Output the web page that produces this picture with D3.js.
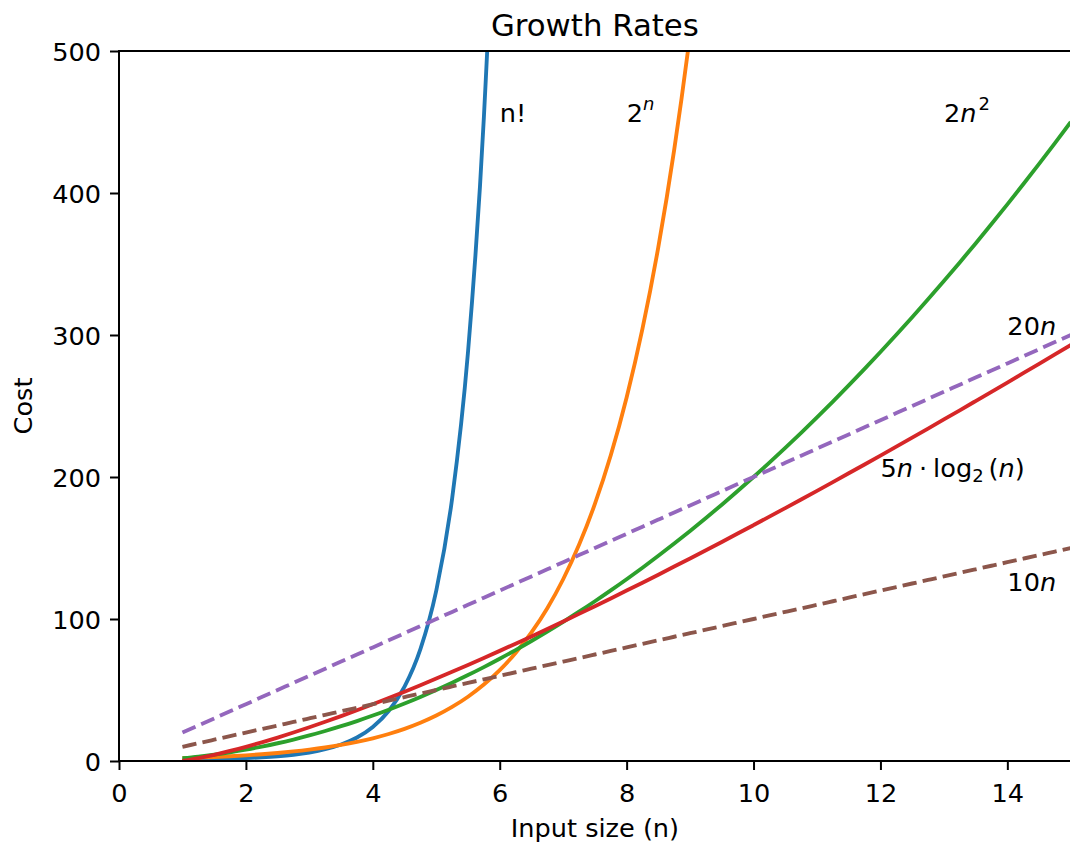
<!DOCTYPE html>
<html><head><meta charset="utf-8">
<script src="https://cdn.jsdelivr.net/npm/d3@7"></script>
<style>
body{margin:0;background:#fff}
text{font-family:"DejaVu Sans",sans-serif;fill:#000}
</style>
</head><body>
<svg id="c" width="1070" height="848"></svg>
<script>
// ---- data ----
const nValues = [1,1.25,1.5,1.75,2,2.25,2.5,2.75,3,3.25,3.5,3.75,4,4.25,4.5,4.75,5,5.25,5.5,5.75,6,6.25,6.5,6.75,7,7.25,7.5,7.75,8,8.25,8.5,8.75,9,9.25,9.5,9.75,10,10.25,10.5,10.75,11,11.25,11.5,11.75,12,12.25,12.5,12.75,13,13.25,13.5,13.75,14,14.25,14.5,14.75,15];
const factorialCost = [1,1.13,1.33,1.61,2,2.55,3.32,4.42,6,8.29,11.63,16.59,24,35.21,52.34,78.79,120,184.86,287.89,453.03,720,1155.4];
const exponentialCost = [2,2.38,2.83,3.36,4,4.76,5.66,6.73,8,9.51,11.31,13.45,16,19.03,22.63,26.91,32,38.05,45.25,53.82,64,76.11,90.51,107.63,128,152.22,181.02,215.27,256,304.44,362.04,430.54,512,608.87];
const quadraticCost = [2,3.13,4.5,6.13,8,10.13,12.5,15.13,18,21.13,24.5,28.13,32,36.13,40.5,45.13,50,55.13,60.5,66.13,72,78.13,84.5,91.13,98,105.13,112.5,120.13,128,136.13,144.5,153.13,162,171.13,180.5,190.13,200,210.13,220.5,231.13,242,253.13,264.5,276.13,288,300.13,312.5,325.13,338,351.13,364.5,378.13,392,406.13,420.5,435.13,450];
const nLogNCost = [0,2.01,4.39,7.06,10,13.16,16.52,20.07,23.77,27.63,31.63,35.75,40,44.36,48.82,53.39,58.05,62.80,67.63,72.55,77.55,82.62,87.76,92.98,98.26,103.60,109.01,114.48,120,125.58,131.22,136.91,142.65,148.44,154.28,160.16,166.10,172.07,178.10,184.16,190.27,196.42,202.60,208.83,215.10,221.40,227.74,234.12,240.53,246.97,253.46,259.97,266.51,273.09,279.70,286.34,293.02];
const twentyNCost = [20,25,30,35,40,45,50,55,60,65,70,75,80,85,90,95,100,105,110,115,120,125,130,135,140,145,150,155,160,165,170,175,180,185,190,195,200,205,210,215,220,225,230,235,240,245,250,255,260,265,270,275,280,285,290,295,300];
const tenNCost = [10,12.5,15,17.5,20,22.5,25,27.5,30,32.5,35,37.5,40,42.5,45,47.5,50,52.5,55,57.5,60,62.5,65,67.5,70,72.5,75,77.5,80,82.5,85,87.5,90,92.5,95,97.5,100,102.5,105,107.5,110,112.5,115,117.5,120,122.5,125,127.5,130,132.5,135,137.5,140,142.5,145,147.5,150];
const xTicks = [0,2,4,6,8,10,12,14];
const yTicks = [0,100,200,300,400,500];
const labelX = [6,8,13,14,12,14];
const labelY = [450,450,450,300,200,120];

// ---- layout ----
const svg = d3.select('#c');
const m = {l:119, r:1070.8, t:51, b:761};
const x = d3.scaleLinear().domain([0,15]).range([m.l,m.r]);
const y = d3.scaleLinear().domain([0,500]).range([m.b,m.t]);
const LW = 3.85, SW = 2, TL = 9, FS = 25.6;

svg.append('defs').append('clipPath').attr('id','clip').append('rect')
  .attr('x',m.l).attr('y',m.t).attr('width',m.r-m.l).attr('height',m.b-m.t);

const series = [
  {vals: factorialCost, color:'#1f77b4', dash:null},
  {vals: exponentialCost, color:'#ff7f0e', dash:null},
  {vals: quadraticCost, color:'#2ca02c', dash:null},
  {vals: nLogNCost, color:'#d62728', dash:null},
  {vals: twentyNCost, color:'#9467bd', dash:'14.3,6.2'},
  {vals: tenNCost, color:'#8c564b', dash:'14.3,6.2'}
];
const line = d3.line().x(d=>x(d[0])).y(d=>y(d[1])).curve(d3.curveMonotoneX);
const g = svg.append('g').attr('clip-path','url(#clip)');
series.forEach(s=>{
  const pts = s.vals.map((v,i)=>[nValues[i],v]);
  g.append('path').attr('d',line(pts)).attr('fill','none')
   .attr('stroke',s.color).attr('stroke-width',LW)
   .attr('stroke-linejoin','round')
   .attr('stroke-dasharray',s.dash);
});

// axes
const xa = svg.append('g').attr('transform',`translate(0,${m.b})`)
  .call(d3.axisBottom(x).tickValues(xTicks).tickSize(TL).tickFormat(d3.format('d')));
xa.select('.domain').remove();
xa.selectAll('line').attr('stroke','#000').attr('stroke-width',SW);
xa.selectAll('text').attr('y',40.5).attr('dy',null).attr('font-size',FS).attr('font-family','DejaVu Sans').attr('fill','#000');

const ya = svg.append('g').attr('transform',`translate(${m.l},0)`)
  .call(d3.axisLeft(y).tickValues(yTicks).tickSize(TL).tickFormat(d3.format('d')));
ya.select('.domain').remove();
ya.selectAll('line').attr('stroke','#000').attr('stroke-width',SW);
ya.selectAll('text').attr('x',-18).attr('dy',null).attr('y',9.3).attr('font-size',FS).attr('font-family','DejaVu Sans').attr('fill','#000');

// spines
const sp = svg.append('g').attr('stroke','#000').attr('stroke-width',SW).attr('stroke-linecap','square');
sp.append('line').attr('x1',m.l).attr('x2',m.l).attr('y1',m.t).attr('y2',m.b);
sp.append('line').attr('x1',m.l).attr('x2',m.r).attr('y1',m.b).attr('y2',m.b);
sp.append('line').attr('x1',m.l).attr('x2',m.r).attr('y1',m.t).attr('y2',m.t);

// titles
svg.append('text').attr('x',(m.l+m.r)/2).attr('y',36).attr('text-anchor','middle')
  .attr('font-size',30.8).text('Growth Rates');
svg.append('text').attr('x',(m.l+m.r)/2).attr('y',837).attr('text-anchor','middle')
  .attr('font-size',FS).text('Input size (n)');
svg.append('text').attr('transform',`translate(32,${(m.t+m.b)/2}) rotate(-90)`).attr('text-anchor','middle')
  .attr('font-size',FS).text('Cost');

// curve labels
function lab(i, size, parts){
  const t = svg.append('text').attr('x',x(labelX[i])).attr('y',y(labelY[i])).attr('font-size',size);
  parts.forEach(p=>{
    const ts = t.append('tspan').text(p.t);
    if(p.i) ts.attr('font-style','italic');
    if(p.s) ts.attr('font-size',p.s);
    if(p.dy) ts.attr('dy',p.dy);
    if(p.dx) ts.attr('dx',p.dx);
  });
}
lab(0,FS,[{t:'n!'}]);
lab(1,FS,[{t:'2'},{t:'n',i:1,s:18,dy:-12}]);
lab(2,FS,[{t:'2'},{t:'n',i:1},{t:'2',s:18,dy:-12,dx:2}]);
lab(3,FS,[{t:'20'},{t:'n',i:1}]);
lab(4,FS,[{t:'5'},{t:'n',i:1},{t:'·',dx:6},{t:'log',dx:6},{t:'2',s:18,dy:5},{t:'(',dy:-5,dx:5},{t:'n',i:1},{t:')'}]);
lab(5,FS,[{t:'10'},{t:'n',i:1}]);
</script>
</body></html>
